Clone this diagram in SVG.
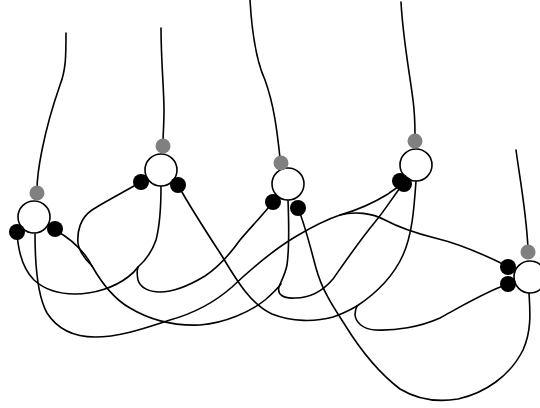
<svg xmlns="http://www.w3.org/2000/svg" width="540" height="408" viewBox="0 0 540 408">
<style>
.w{fill:none;stroke:#000;stroke-width:1.6;stroke-linecap:round;stroke-linejoin:round}
.c{fill:#fff;stroke:#000;stroke-width:1.6}
.g{fill:#808080}
.b{fill:#000}
</style>
<rect width="540" height="408" fill="#fff"/>
<g id="connectors">
<path class="w" d="M66,33 C66,55 66,70 60,85 C52,108 46,130 42,150 C39,165 37,178 37,190"/>
<path class="w" d="M161,28 C161,60 164,90 164,110 C164,125 163,135 163,142"/>
<path class="w" d="M250,0 C252,35 256,60 265,80 C274,105 277,130 280,158"/>
<path class="w" d="M401,2 C403,40 410,75 413,100 C415,115 415,125 415,136"/>
<path class="w" d="M516,150 C520,180 526,210 528,248"/>
<path class="w" d="M17,232 C18,250 22,268 34,280 C45,290 60,294 75,294 C95,294 115,287 128,277 C132,274 136,270 138,267"/>
<path class="w" d="M161,186 C161,205 160,225 156,240 C152,252 146,260 138,267"/>
<path class="w" d="M273,202 C262,216 250,228 240,240 C230,254 220,266 205,276 C190,285 175,292 160,292 C148,292 140,287 138,280 C137,275 137,270 138,267"/>
<path class="w" d="M55,230 C66,236 78,246 85,255 C88,259 90,262 92,266"/>
<path class="w" d="M141,182 C122,193 104,202 92,210 C80,218 77,232 78,243 C79,252 85,259 92,266"/>
<path class="w" d="M92,266 C100,280 112,298 130,308 C150,320 175,326 200,325 C225,323 250,312 265,300 C272,294 277,289 281,284"/>
<path class="w" d="M288,200 C289,225 289,250 287,265 C285,275 281,281 279,287 C277,294 283,299 295,298 C310,298 322,292 333,279 C345,262 360,240 375,222 C385,210 393,197 400,188"/>
<path class="w" d="M35,234 C35,265 37,295 47,313 C58,330 75,337 95,337 C120,337 145,328 170,320 C195,313 215,302 232,287 C250,270 270,252 295,237 C310,228 325,220 340,215"/>
<path class="w" d="M340,215 C355,211 372,213 385,220 C400,228 415,233 435,238 C460,244 485,255 507,266"/>
<path class="w" d="M340,215 C358,210 375,202 388,194 C393,190 397,188 401,185"/>
<path class="w" d="M416,181 C414,210 412,235 403,255 C394,275 378,292 357,306"/>
<path class="w" d="M178,185 C190,207 205,230 222,256 C238,283 252,305 272,314 C292,322 315,322 333,317 C342,314 350,310 357,306"/>
<path class="w" d="M508,284 C485,292 460,307 440,318 C420,327 395,331 375,330 C362,329 356,322 355,315 C355,311 356,308 357,306"/>
<path class="w" d="M298,208 C306,228 311,250 316,268 C322,290 332,305 345,325 C358,346 375,370 400,389 C420,401 440,402 458,399 C485,393 510,376 523,350 C532,330 530,310 529,293"/>
</g>
<g id="nodeA"><circle class="c" cx="34" cy="217" r="16"/><circle class="g" cx="37" cy="193" r="7.5"/><circle class="b" cx="17" cy="232" r="8"/><circle class="b" cx="55" cy="229" r="8"/></g>
<g id="nodeB"><circle class="c" cx="161" cy="170" r="16"/><circle class="g" cx="163" cy="146" r="7.5"/><circle class="b" cx="141" cy="182" r="8"/><circle class="b" cx="178" cy="185" r="8"/></g>
<g id="nodeC"><circle class="c" cx="288" cy="184" r="16"/><circle class="g" cx="281" cy="163" r="7.5"/><circle class="b" cx="273" cy="202" r="8"/><circle class="b" cx="298" cy="208" r="8"/></g>
<g id="nodeD"><circle class="c" cx="416" cy="165" r="16"/><circle class="g" cx="415" cy="141" r="7.5"/><circle class="b" cx="400" cy="181" r="8"/><circle class="b" cx="404" cy="184" r="8"/></g>
<g id="nodeE"><circle class="c" cx="530" cy="277" r="16"/><circle class="g" cx="528" cy="252" r="7.5"/><circle class="b" cx="508" cy="267" r="8"/><circle class="b" cx="508" cy="284" r="8"/></g>
</svg>
